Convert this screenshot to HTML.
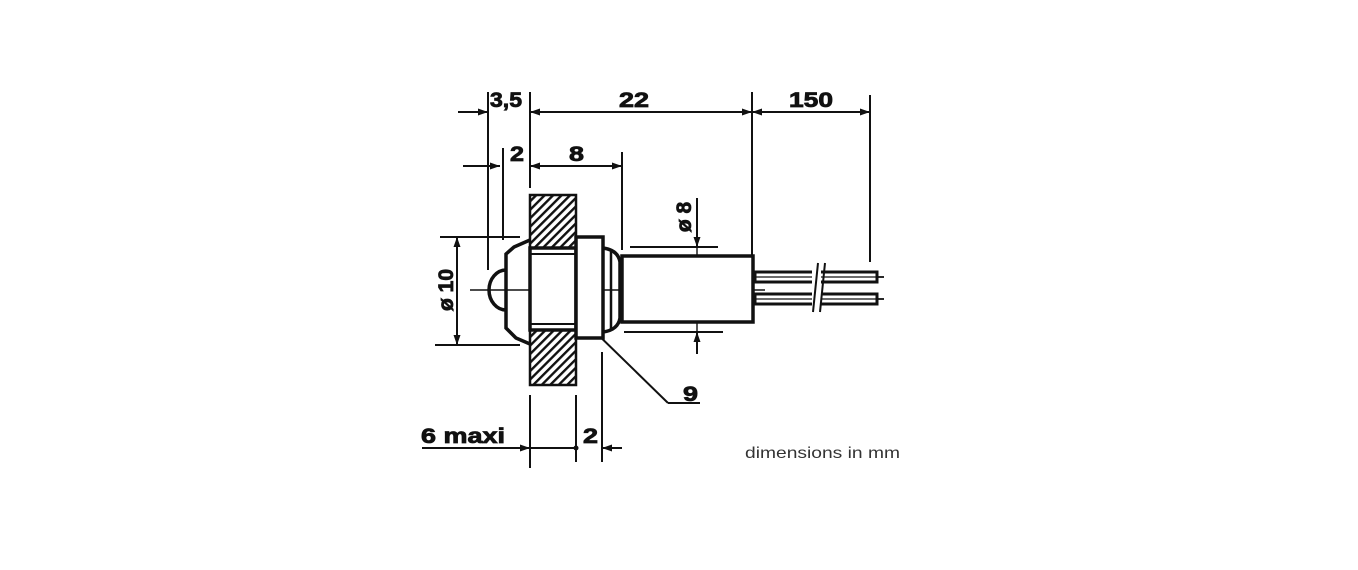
<!DOCTYPE html>
<html><head><meta charset="utf-8"><style>
html,body{margin:0;padding:0;background:#fff;}
svg{display:block;}
.t{font-family:"Liberation Sans",sans-serif;font-weight:bold;font-size:21px;fill:#111;stroke:#111;stroke-width:0.8;}
</style></head><body>
<svg width="1358" height="570" viewBox="0 0 1358 570" xmlns="http://www.w3.org/2000/svg">
<defs>
<pattern id="h" patternUnits="userSpaceOnUse" width="6" height="6" patternTransform="rotate(45)">
<rect width="6" height="6" fill="#fff"/><rect width="2.4" height="6" fill="#111"/>
</pattern>
<marker id="a" viewBox="0 0 10 10" refX="10" refY="5" markerWidth="10" markerHeight="10" orient="auto-start-reverse" markerUnits="userSpaceOnUse"><path d="M0,1.5 L10,5 L0,8.5z" fill="#111"/></marker>
</defs>
<g stroke="#111" stroke-width="2" fill="none">
<line x1="458" y1="112" x2="488" y2="112" marker-end="url(#a)"/>
<line x1="530" y1="112" x2="752" y2="112" marker-start="url(#a)" marker-end="url(#a)"/>
<line x1="752" y1="112" x2="870" y2="112" marker-start="url(#a)" marker-end="url(#a)"/>
<line x1="488" y1="92" x2="488" y2="270"/>
<line x1="530" y1="92" x2="530" y2="188"/>
<line x1="752" y1="92" x2="752" y2="255"/>
<line x1="870" y1="95" x2="870" y2="262"/>
<line x1="463" y1="166" x2="500" y2="166" marker-end="url(#a)"/>
<line x1="530" y1="166" x2="622" y2="166" marker-start="url(#a)" marker-end="url(#a)"/>
<line x1="503" y1="148" x2="503" y2="240"/>
<line x1="622" y1="152" x2="622" y2="250"/>
<line x1="470" y1="290" x2="765" y2="290" stroke-width="1.6"/>
<line x1="440" y1="237" x2="520" y2="237"/>
<line x1="435" y1="345" x2="520" y2="345"/>
<line x1="457" y1="237" x2="457" y2="345" marker-start="url(#a)" marker-end="url(#a)"/>
<line x1="630" y1="247" x2="718" y2="247"/>
<line x1="624" y1="332" x2="723" y2="332"/>
<line x1="697" y1="198" x2="697" y2="247" marker-end="url(#a)"/>
<line x1="697" y1="354" x2="697" y2="332" marker-end="url(#a)"/>
<line x1="697" y1="247" x2="697" y2="332" stroke-width="1.4"/>
<line x1="587" y1="324" x2="668" y2="403"/>
<line x1="668" y1="403" x2="700" y2="403"/>
<line x1="422" y1="448" x2="530" y2="448" marker-end="url(#a)"/>
<line x1="530" y1="448" x2="576" y2="448"/>
<line x1="622" y1="448" x2="602" y2="448" marker-end="url(#a)"/>
<line x1="530" y1="395" x2="530" y2="468"/>
<line x1="576" y1="395" x2="576" y2="462"/>
<line x1="602" y1="352" x2="602" y2="462"/>
</g>
<circle cx="587" cy="324" r="3" fill="#111"/>
<circle cx="576" cy="448" r="2.5" fill="#111"/>
<rect x="530" y="195" width="46" height="53" fill="url(#h)" stroke="#111" stroke-width="2.5"/>
<rect x="530" y="330" width="46" height="55" fill="url(#h)" stroke="#111" stroke-width="2.5"/>
<g stroke="#111" stroke-width="3.5" fill="none">
<rect x="530" y="248" width="46" height="82" fill="#fff"/>
<line x1="530" y1="254" x2="576" y2="254" stroke-width="2"/>
<line x1="530" y1="324" x2="576" y2="324" stroke-width="2"/>
<path d="M530,240 L514,247 L506,254 L506,328 L516,338 L530,344"/>
<path d="M506,270 A17,20 0 0 0 506,310"/>
<rect x="576" y="237" width="27" height="101" fill="#fff"/>
<path d="M603,248 Q618,250 620,262 L620,318 Q618,330 603,332"/>
<line x1="611" y1="250" x2="611" y2="331" stroke-width="2.5"/>
<rect x="622" y="256" width="131" height="66" fill="#fff"/>
<rect x="755" y="272" width="122" height="10" stroke-width="3"/>
<rect x="755" y="294" width="122" height="10" stroke-width="3"/>
<line x1="755" y1="277" x2="877" y2="277" stroke-width="1.2"/>
<line x1="755" y1="299" x2="877" y2="299" stroke-width="1.2"/>
<line x1="877" y1="277" x2="884" y2="277" stroke-width="1.8"/>
<line x1="877" y1="299" x2="884" y2="299" stroke-width="1.8"/>
</g>
<rect x="812" y="268" width="9" height="40" fill="#fff"/>
<line x1="813" y1="312" x2="818" y2="263" stroke="#111" stroke-width="2"/>
<line x1="820" y1="312" x2="825" y2="263" stroke="#111" stroke-width="2"/>
<text class="t" x="490" y="107" textLength="32" lengthAdjust="spacingAndGlyphs">3,5</text>
<text class="t" x="619" y="107" textLength="30" lengthAdjust="spacingAndGlyphs">22</text>
<text class="t" x="789" y="107" textLength="44" lengthAdjust="spacingAndGlyphs">150</text>
<text class="t" x="510" y="161" textLength="14" lengthAdjust="spacingAndGlyphs">2</text>
<text class="t" x="569" y="161" textLength="15" lengthAdjust="spacingAndGlyphs">8</text>
<text class="t" x="683" y="401" textLength="15" lengthAdjust="spacingAndGlyphs">9</text>
<text class="t" x="421" y="443" textLength="84" lengthAdjust="spacingAndGlyphs">6 maxi</text>
<text class="t" x="583" y="443" textLength="15" lengthAdjust="spacingAndGlyphs">2</text>
<text class="t" transform="translate(453,290) rotate(-90)" text-anchor="middle">ø 10</text>
<text class="t" transform="translate(691,217) rotate(-90)" text-anchor="middle">ø 8</text>
<text x="745" y="458" font-family="Liberation Sans,sans-serif" font-size="16" fill="#333" textLength="155" lengthAdjust="spacingAndGlyphs">dimensions in mm</text>
</svg>
</body></html>
